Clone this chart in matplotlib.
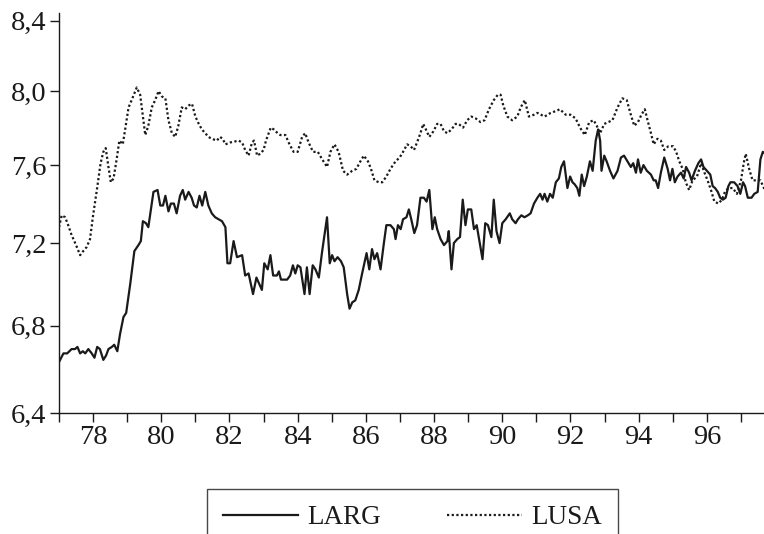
import numpy as np
import matplotlib
matplotlib.use('Agg')
import matplotlib.pyplot as plt
from matplotlib.ticker import FixedLocator, FixedFormatter, NullLocator

# ============================================================
# DATA (decimal years)
# ============================================================
larg_t = [77.00, 77.13, 77.24, 77.37, 77.47, 77.54, 77.62, 77.70, 77.77, 77.86,
          77.96, 78.04, 78.12, 78.20, 78.30, 78.38, 78.45, 78.55, 78.62, 78.71,
          78.79, 78.89, 78.97, 79.09, 79.21, 79.33, 79.40, 79.46, 79.55, 79.62,
          79.77, 79.89, 79.97, 80.05, 80.12, 80.21, 80.28, 80.37, 80.45, 80.55,
          80.63, 80.70, 80.80, 80.89, 80.96, 81.04, 81.12, 81.20, 81.29, 81.38,
          81.48, 81.58, 81.68, 81.78, 81.88, 81.94, 82.02, 82.12, 82.22, 82.37,
          82.46, 82.56, 82.69, 82.79, 82.95, 83.02, 83.12, 83.20, 83.28, 83.39,
          83.45, 83.51, 83.59, 83.69, 83.78, 83.86, 83.93, 84.00, 84.08, 84.20,
          84.27, 84.35, 84.44, 84.52, 84.62, 84.71, 84.86, 84.94, 85.01, 85.08,
          85.17, 85.27, 85.35, 85.45, 85.52, 85.60, 85.69, 85.79, 85.89, 86.02,
          86.10, 86.18, 86.25, 86.33, 86.43, 86.52, 86.60, 86.72, 86.82, 86.87,
          86.94, 87.02, 87.09, 87.19, 87.26, 87.33, 87.42, 87.50, 87.60, 87.70,
          87.78, 87.86, 87.95, 88.02, 88.09, 88.19, 88.29, 88.39, 88.43, 88.51,
          88.58, 88.68, 88.76, 88.84, 88.92, 88.99, 89.09, 89.17, 89.25, 89.34,
          89.42, 89.50, 89.58, 89.68, 89.75, 89.83, 89.92, 90.00, 90.10, 90.22,
          90.29, 90.39, 90.46, 90.56, 90.65, 90.75, 90.83, 90.93, 91.03, 91.11,
          91.18, 91.24, 91.32, 91.40, 91.48, 91.57, 91.66, 91.73, 91.81, 91.91,
          91.99, 92.06, 92.12, 92.20, 92.26, 92.33, 92.40, 92.48, 92.57, 92.65,
          92.74, 92.81, 92.87, 92.91, 92.99, 93.06, 93.16, 93.26, 93.38, 93.48,
          93.57, 93.67, 93.77, 93.84, 93.92, 93.98, 94.06, 94.14, 94.24, 94.36,
          94.44, 94.50, 94.57, 94.65, 94.75, 94.85, 94.92, 94.99, 95.06, 95.14,
          95.24, 95.32, 95.39, 95.48, 95.55, 95.65, 95.75, 95.83, 95.90, 96.00,
          96.10, 96.17, 96.24, 96.32, 96.39, 96.47, 96.55, 96.63, 96.69, 96.80,
          96.90, 96.98, 97.06, 97.12, 97.20, 97.31, 97.39, 97.49, 97.57, 97.64,
          97.71]
larg_v = [6.63, 6.67, 6.67, 6.69, 6.69, 6.70, 6.67, 6.68, 6.67, 6.69,
          6.67, 6.65, 6.70, 6.69, 6.64, 6.66, 6.69, 6.70, 6.71, 6.68,
          6.76, 6.84, 6.86, 7.00, 7.16, 7.19, 7.21, 7.31, 7.30, 7.28,
          7.46, 7.47, 7.39, 7.39, 7.44, 7.36, 7.40, 7.40, 7.35, 7.44,
          7.47, 7.42, 7.46, 7.43, 7.39, 7.38, 7.44, 7.39, 7.46, 7.39,
          7.35, 7.33, 7.32, 7.31, 7.28, 7.10, 7.10, 7.21, 7.13, 7.14,
          7.04, 7.05, 6.95, 7.03, 6.97, 7.10, 7.07, 7.14, 7.04, 7.04,
          7.06, 7.02, 7.02, 7.02, 7.04, 7.09, 7.05, 7.09, 7.08, 6.95,
          7.08, 6.95, 7.09, 7.07, 7.03, 7.15, 7.33, 7.10, 7.14, 7.11,
          7.13, 7.11, 7.08, 6.95, 6.88, 6.91, 6.92, 6.97, 7.05, 7.15,
          7.07, 7.17, 7.12, 7.15, 7.07, 7.19, 7.29, 7.29, 7.27, 7.22,
          7.29, 7.27, 7.32, 7.33, 7.37, 7.32, 7.25, 7.29, 7.43, 7.43,
          7.41, 7.47, 7.27, 7.33, 7.27, 7.22, 7.19, 7.21, 7.26, 7.07,
          7.20, 7.22, 7.23, 7.42, 7.29, 7.37, 7.37, 7.27, 7.29, 7.20,
          7.12, 7.30, 7.29, 7.23, 7.42, 7.26, 7.20, 7.30, 7.32, 7.35,
          7.32, 7.30, 7.32, 7.34, 7.33, 7.34, 7.35, 7.40, 7.43, 7.45,
          7.42, 7.45, 7.41, 7.45, 7.43, 7.51, 7.53, 7.59, 7.62, 7.48,
          7.54, 7.51, 7.50, 7.48, 7.44, 7.55, 7.49, 7.54, 7.62, 7.57,
          7.73, 7.79, 7.73, 7.57, 7.65, 7.62, 7.57, 7.53, 7.57, 7.64,
          7.65, 7.62, 7.59, 7.61, 7.56, 7.63, 7.56, 7.60, 7.57, 7.55,
          7.52, 7.52, 7.48, 7.56, 7.64, 7.58, 7.52, 7.58, 7.51, 7.54,
          7.56, 7.53, 7.59, 7.56, 7.52, 7.57, 7.61, 7.63, 7.59, 7.57,
          7.55, 7.49, 7.48, 7.46, 7.43, 7.42, 7.43, 7.49, 7.51, 7.51,
          7.49, 7.45, 7.51, 7.49, 7.43, 7.43, 7.45, 7.46, 7.63, 7.67,
          7.66]

lusa_t = [77.00, 77.08, 77.18, 77.27, 77.37, 77.50, 77.62, 77.71, 77.81, 77.91,
          78.00, 78.11, 78.22, 78.30, 78.37, 78.45, 78.52, 78.60, 78.69, 78.77,
          78.87, 78.94, 79.04, 79.13, 79.28, 79.38, 79.46, 79.53, 79.62, 79.72,
          79.82, 79.92, 80.02, 80.12, 80.21, 80.31, 80.41, 80.50, 80.60, 80.70,
          80.80, 80.90, 81.00, 81.10, 81.19, 81.29, 81.38, 81.48, 81.63, 81.72,
          81.80, 81.88, 82.02, 82.27, 82.37, 82.46, 82.56, 82.66, 82.72, 82.81,
          82.90, 83.00, 83.07, 83.21, 83.30, 83.41, 83.49, 83.64, 83.76, 83.88,
          84.00, 84.13, 84.22, 84.32, 84.45, 84.59, 84.72, 84.86, 84.96, 85.08,
          85.20, 85.33, 85.45, 85.60, 85.72, 85.84, 85.94, 86.06, 86.15, 86.25,
          86.38, 86.48, 86.60, 86.72, 86.87, 86.99, 87.09, 87.21, 87.31, 87.41,
          87.50, 87.60, 87.68, 87.76, 87.86, 87.98, 88.09, 88.19, 88.29, 88.39,
          88.51, 88.63, 88.72, 88.85, 88.97, 89.09, 89.22, 89.36, 89.48, 89.61,
          89.75, 89.87, 89.95, 90.03, 90.15, 90.29, 90.44, 90.54, 90.66, 90.78,
          90.93, 91.03, 91.24, 91.42, 91.57, 91.69, 91.86, 92.00, 92.15, 92.28,
          92.42, 92.55, 92.68, 92.77, 92.87, 92.99, 93.11, 93.23, 93.38, 93.52,
          93.65, 93.77, 93.87, 93.98, 94.08, 94.18, 94.26, 94.36, 94.44, 94.55,
          94.65, 94.75, 94.87, 95.01, 95.10, 95.19, 95.29, 95.38, 95.48, 95.58,
          95.71, 95.83, 95.93, 96.02, 96.12, 96.22, 96.34, 96.44, 96.53, 96.63,
          96.76, 96.88, 97.00, 97.08, 97.14, 97.24, 97.34, 97.47, 97.57, 97.70]
lusa_v = [7.28, 7.34, 7.33, 7.29, 7.24, 7.19, 7.14, 7.16, 7.18, 7.22,
          7.34, 7.47, 7.61, 7.67, 7.69, 7.59, 7.51, 7.53, 7.63, 7.73,
          7.71, 7.79, 7.91, 7.95, 8.02, 7.98, 7.86, 7.76, 7.81, 7.91,
          7.95, 8.00, 7.97, 7.96, 7.84, 7.77, 7.75, 7.81, 7.91, 7.90,
          7.92, 7.93, 7.86, 7.82, 7.79, 7.77, 7.75, 7.74, 7.73, 7.75,
          7.74, 7.71, 7.72, 7.73, 7.72, 7.68, 7.65, 7.72, 7.73, 7.65,
          7.66, 7.68, 7.73, 7.80, 7.79, 7.77, 7.76, 7.76, 7.71, 7.67,
          7.67, 7.75, 7.77, 7.72, 7.67, 7.67, 7.63, 7.59, 7.67, 7.71,
          7.67, 7.57, 7.55, 7.57, 7.58, 7.62, 7.65, 7.62, 7.58, 7.52,
          7.51, 7.51, 7.54, 7.58, 7.62, 7.64, 7.67, 7.71, 7.70, 7.68,
          7.72, 7.77, 7.82, 7.79, 7.75, 7.78, 7.82, 7.82, 7.78, 7.77,
          7.79, 7.82, 7.82, 7.80, 7.84, 7.86, 7.85, 7.83, 7.84, 7.90,
          7.95, 7.98, 7.98, 7.92, 7.86, 7.84, 7.86, 7.91, 7.95, 7.86,
          7.87, 7.88, 7.86, 7.88, 7.89, 7.90, 7.87, 7.87, 7.85, 7.80,
          7.76, 7.83, 7.84, 7.81, 7.77, 7.82, 7.83, 7.84, 7.91, 7.96,
          7.95, 7.87, 7.81, 7.83, 7.87, 7.90, 7.84, 7.77, 7.71, 7.74,
          7.73, 7.68, 7.70, 7.70, 7.67, 7.62, 7.58, 7.51, 7.47, 7.52,
          7.54, 7.61, 7.56, 7.52, 7.47, 7.41, 7.40, 7.42, 7.46, 7.48,
          7.48, 7.45, 7.52, 7.61, 7.66, 7.58, 7.52, 7.52, 7.52, 7.47]

y_ticks = [6.4, 6.8, 7.2, 7.6, 8.0, 8.4]
y_labels = ['6,4', '6,8', '7,2', '7,6', '8,0', '8,4']
x_major = [78, 80, 82, 84, 86, 88, 90, 92, 94, 96]
x_labels = ['78', '80', '82', '84', '86', '88', '90', '92', '94', '96']
x_minor = [77, 79, 81, 83, 85, 87, 89, 91, 93, 95, 97]

# ============================================================
# PLOT
# ============================================================
plt.rcParams['font.family'] = ['Liberation Serif', 'DejaVu Serif']
ink = '#1a1a1a'

fig = plt.figure(figsize=(7.64, 5.34), dpi=100)
ax = fig.add_axes([59 / 764, 1 - 413 / 534, 1 - 59 / 764 + 0.002, (413 - 13) / 534])

ax.plot(larg_t, larg_v, color=ink, lw=1.6, label='LARG')
ax.plot(lusa_t, lusa_v, color=ink, lw=1.6, linestyle=(0, (1, 1.1)), label='LUSA')

# y axis is logarithmic (tick spacing shrinks towards the top)
ax.set_yscale('log')
ax.set_ylim(6.4, 8.445)
ax.set_xlim(77, 97.72)
ax.yaxis.set_major_locator(FixedLocator(y_ticks))
ax.yaxis.set_major_formatter(FixedFormatter(y_labels))
ax.yaxis.set_minor_locator(NullLocator())
ax.set_xticks(x_major)
ax.set_xticklabels(x_labels)
ax.set_xticks(x_minor, minor=True)

for side in ['top', 'right']:
    ax.spines[side].set_visible(False)
for side in ['left', 'bottom']:
    ax.spines[side].set_linewidth(1.0)
    ax.spines[side].set_color(ink)

ax.tick_params(axis='both', which='both', direction='out', length=6.5,
               width=1.0, color=ink, labelsize=20.5, labelcolor=ink, pad=2.5)

leg = fig.legend(loc='upper left', bbox_to_anchor=(207 / 764, 1 - 489 / 534),
                 ncol=2, fontsize=19.5, frameon=True, fancybox=False,
                 borderpad=0.6, handlelength=2.75, handletextpad=0.35,
                 columnspacing=2.45, borderaxespad=0)
leg.get_frame().set_edgecolor(ink)
leg.get_frame().set_linewidth(1.0)
for txt in leg.get_texts():
    txt.set_color(ink)

fig.savefig('out.png', dpi=100)
